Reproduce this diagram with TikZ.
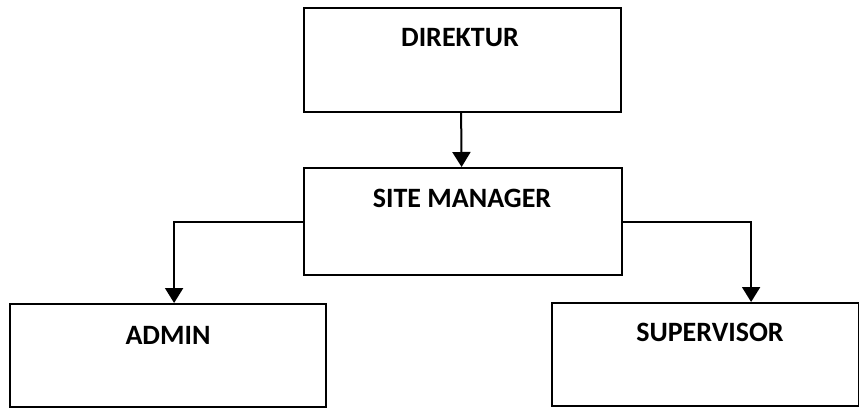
\documentclass[tikz,border=0pt]{standalone}
\usepackage{fontspec}
\setmainfont{Carlito}
\usetikzlibrary{arrows.meta}
\begin{document}
\begin{tikzpicture}[x=1pt,y=-1pt,
  box/.style={draw, line width=2.2pt, rectangle, anchor=north west, inner sep=0pt},
  lbl/.style={font=\bfseries\fontsize{28}{32}\selectfont, inner sep=0pt},
  link/.style={line width=2pt, -{Triangle[width=18pt,length=15pt]}}]
  \useasboundingbox (0,0) rectangle (859,408);
  % boxes of the chart
  \node[box, minimum width=317pt, minimum height=104pt] (dir) at (303,7) {};
  \node[box, minimum width=318pt, minimum height=107pt] (sm)  at (303,167) {};
  \node[box, minimum width=316pt, minimum height=103pt] (adm) at (9,303) {};
  \node[box, minimum width=307pt, minimum height=103pt] (sup) at (551,302) {};
  % titles
  \node[lbl] (tdir) at (460,38) {DIREKTUR};
  \node[lbl] (tsm)  at (462,198) {SITE MANAGER};
  \node[lbl] (tadm) at (168,335) {ADMIN};
  \node[lbl] (tsup) at (710,332) {SUPERVISOR};
  % connectors
  \coordinate (admin in) at ([xshift=6pt]adm.north);
  \coordinate (sup in) at ([xshift=45.5pt]sup.north);
  \draw[link] ([xshift=-1.5pt]dir.south) -- ([xshift=-1.5pt]sm.north);
  \draw[link] (sm.west) -| (admin in);
  \draw[link] (sm.east) -| (sup in);
\end{tikzpicture}
\end{document}
